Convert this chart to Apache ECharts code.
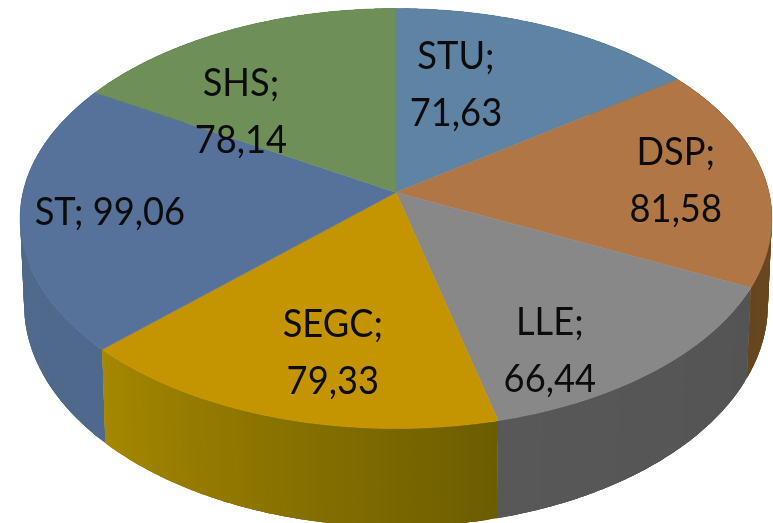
<!DOCTYPE html>
<html>
<head>
<meta charset="utf-8">
<style>html,body{margin:0;padding:0;background:#fff}#c{width:773px;height:523px}</style>
<script src="https://cdn.jsdelivr.net/npm/echarts@6/dist/echarts.min.js"></script>
</head>
<body>
<div id="c"></div>
<script>
const categories = ['STU','DSP','LLE','SEGC','ST','SHS'];
const values = [71.63,81.58,66.44,79.33,99.06,78.14];
const topColors = ['#5F83A3','#B07645','#888888','#C49500','#56719A','#6F8F59'];
// side wall colour at the slice's start and end angle
const sideColors = [['#4F6C87','#4F6C87'],['#6F4E2A','#66461F'],['#545454','#585858'],['#6C5D00','#A58700'],['#4F698D','#4F6B8C'],['#5B7549','#5B7549']];
const labelSeparators = ['\n','\n','\n','\n',' ','\n'];
// label placement: [angle offset from slice middle in degrees, radius fraction]
const labelPolar = [[-9.9,.582],[0.9,.757],[10.7,.793],[-3.7,.723],[-0.7,.764],[-17.2,.6]];

const total = values.reduce((a,b)=>a+b,0);
const starts = []; values.reduce((s,v,i)=>{starts[i]=s;return s+v;},0);

const K = 0.124, CX = 396;
const TOP = {cy:192.5, A:373, B:206.8};
const BOT = {cy:277, A:369, B:218.6};
function project(face, deg, r){
  const t = deg*Math.PI/180, X = r*Math.sin(t), Y = -r*Math.cos(t), d = 1-K*Y;
  return [CX + face.A*X/d, face.cy + face.B*Y/d];
}
function arc(face, a0, a1, perDeg){
  const pts = [], n = Math.ceil(Math.abs(a1-a0)*perDeg);
  for(let i=0;i<=n;i++) pts.push(project(face, a0+(a1-a0)*i/n, 1));
  return pts;
}
function renderItem(params, api){
  const i = params.dataIndex, v = api.value(0);
  const a0 = starts[i]/total*360, a1 = a0 + v/total*360;
  const topArc = arc(TOP,a0,a1,2), botArc = arc(BOT,a0,a1,2);
  const sc = sideColors[i], children = [], n = topArc.length-1;
  for(let q=0;q<n;q+=2){
    const e = Math.min(q+6,n);
    const pts = topArc.slice(q,e+1).concat(botArc.slice(q,e+1).reverse());
    const col = echarts.color.lerp((q+1)/n, sc);
    children.push({type:'polygon',z2:1+q/1000,shape:{points:pts},style:{fill:col}});
  }
  const lp = labelPolar[i];
  const lpos = project(TOP,(a0+a1)/2+lp[0],lp[1]);
  children.push(
    {type:'polygon',z2:5,shape:{points:[project(TOP,0,0)].concat(topArc)},style:{fill:topColors[i],stroke:topColors[i],lineWidth:.5}},
    {type:'text',z2:10,x:lpos[0],y:lpos[1],scaleX:.93,style:{
      x:0,y:0,text:categories[i]+';'+labelSeparators[i]+v.toFixed(2).replace('.',','),
      fill:'#0c0c0c',font:'39px Lato',align:'center',verticalAlign:'middle',lineHeight:57}}
  );
  return {type:'group',children:children};
}
const chart = echarts.init(document.getElementById('c'),null,{renderer:'canvas'});
chart.setOption({
  animation:false,
  backgroundColor:'#fff',
  series:[{type:'custom',coordinateSystem:'none',silent:true,clip:false,renderItem:renderItem,
    data:values.map((v,i)=>({name:categories[i],value:[v]}))}]
});
</script>
</body>
</html>
